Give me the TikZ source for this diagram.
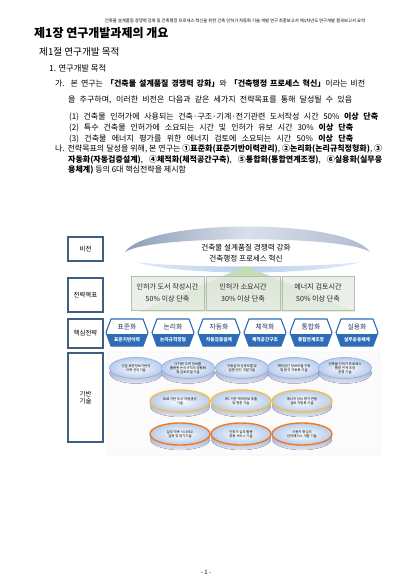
\documentclass[tikz,border=0pt]{standalone}
\usepackage{fontspec}
\setmainfont{Noto Sans CJK KR}
\usetikzlibrary{shapes.geometric}
\definecolor{labelblue}{HTML}{3F5F80}
\definecolor{hexblue}{HTML}{2F6CB8}
\definecolor{navy}{HTML}{1F3864}
\definecolor{archdark}{HTML}{8C9DB8}
\definecolor{archlight}{HTML}{D8E0EA}
\definecolor{archblue}{HTML}{BCD3EE}
\definecolor{arrowgreen}{HTML}{BFDBB0}
\definecolor{arrowpale}{HTML}{E6F0E0}
\definecolor{stratfill}{HTML}{E4E9E1}
\definecolor{stratline}{HTML}{B3BEAE}
\definecolor{faceblue}{HTML}{B7CCEC}
\definecolor{sideblue}{HTML}{7D8FC4}
\definecolor{ringblue}{HTML}{9DB4DC}
\definecolor{ringgold}{HTML}{F4C04A}
\definecolor{ringorange}{HTML}{EE7B22}
\definecolor{panelline}{HTML}{E6E6E6}
\tikzset{
  body/.style={anchor=west, inner sep=0pt, font=\fontsize{8}{9}\selectfont},
  lbl/.style={draw=labelblue, line width=1.8pt, fill=white, minimum width=35pt,
    inner sep=0pt, align=center, font=\fontsize{6.4}{7.8}\selectfont},
  strat/.style={draw=stratline, line width=0.5pt, fill=stratfill, fill opacity=0.72,
    text opacity=1, minimum height=34pt, inner sep=0pt, align=center,
    font=\fontsize{7.1}{8.5}\selectfont, text=black!85},
  hextop/.style={inner sep=0pt, font=\fontsize{6.8}{7}\selectfont, text=navy},
  hexbot/.style={inner sep=0pt, font=\bfseries\fontsize{4.7}{5}\selectfont, text=white},
  diskface/.style={ellipse, inner sep=0pt, align=center, inner color=white,
    outer color=faceblue, font=\fontsize{3.4}{4.1}\selectfont},
  diskside/.style={top color=sideblue, bottom color=sideblue!25},
}
\begin{document}
\begin{tikzpicture}[x=1pt,y=-1pt]
\useasboundingbox (0,0) rectangle (413,584);
\fill[white] (0,0) rectangle (413,584);

% running header
\node[inner sep=0pt] (hdr) at (235,21) {\resizebox{260pt}{!}{\fontsize{4}{4}\selectfont 건축물 설계품질 경쟁력 강화 및 건축행정 프로세스 혁신을 위한 건축 인허가 자동화 기술 개발 연구 최종보고서 제1차년도 연구개발 결과보고서 요약}};

% headings
\node[anchor=west, inner sep=0pt, font=\bfseries\fontsize{12}{13}\selectfont] (title) at (34,33) {제1장 연구개발과제의 개요};
\node[anchor=west, inner sep=0pt, font=\fontsize{9.6}{11}\selectfont] (sec) at (39,52) {제1절 연구개발 목적};
\node[anchor=west, inner sep=0pt, font=\fontsize{8.3}{9}\selectfont] (sub) at (49,68) {1. 연구개발 목적};

% paragraph ga
\node[body] (ga1) at (55,83) {\makebox[310pt][s]{가. 본 연구는 \textbf{「건축물 설계품질 경쟁력 강화」}와 \textbf{「건축행정 프로세스 혁신」}이라는 비전}};
\node[body] (ga2) at (68,100) {\makebox[284pt][s]{을 추구하며, 이러한 비전은 다음과 같은 세가지 전략목표를 통해 달성될 수 있음}};
\node[body] (ga3) at (69,117) {\makebox[309pt][s]{(1) 건축물 인허가에 사용되는 건축·구조·기계·전기관련 도서작성 시간 50\% \textbf{이상 단축}}};
\node[body] (ga4) at (69,128) {\makebox[284pt][s]{(2) 특수 건축물 인허가에 소요되는 시간 및 인허가 유보 시간 30\% \textbf{이상 단축}}};
\node[body] (ga5) at (69,139) {\makebox[284pt][s]{(3) 건축물 에너지 평가를 위한 에너지 검토에 소요되는 시간 50\% \textbf{이상 단축}}};

% paragraph na
\node[body] (na1) at (55,149) {\makebox[327pt][s]{나. 전략목표의 달성을 위해, 본 연구는 \textbf{①표준화(표준기반이력관리)}, \textbf{②논리화(논리규칙정형화)}, \textbf{③}}};
\node[body] (na2) at (68,160) {\makebox[314pt][s]{\textbf{자동화(자동검증설계)}, \textbf{④체적화(체적공간구축)}, \textbf{⑤통합화(통합연계조정)}, \textbf{⑥실용화(실무응}}};
\node[body] (na3) at (68,170) {\textbf{용체계)} 등의 6대 핵심전략을 제시함};

% left label boxes
\node[lbl, minimum height=24pt] (lvision) at (85.5,249) {비전};
\node[lbl, minimum height=34pt] (lgoal) at (85.5,295) {전략목표};
\node[lbl, minimum height=29pt] (lcore) at (85.5,333.5) {핵심전략};
\node[lbl, minimum height=89pt] (lbase) at (85.5,397.5) {기반\\기술};

% vision arch
\shade[left color=archdark, right color=archdark!70, middle color=archlight]
  (125,252) .. controls (148,218) and (347,218) .. (370,252)
  .. controls (345,235) and (150,235) .. (125,252) -- cycle;
\shade[left color=archblue!50, right color=archblue!50, middle color=archblue]
  (136,262) .. controls (180,276) and (315,276) .. (360,262)
  .. controls (315,268) and (180,268) .. (136,262) -- cycle;
\node[inner sep=0pt, font=\fontsize{7.6}{8}\selectfont] (vis1) at (246,248) {건축물 설계품질 경쟁력 강화};
\node[inner sep=0pt, font=\fontsize{7.6}{8}\selectfont] (vis2) at (246,259) {건축행정 프로세스 혁신};

% green arrow behind goals
\shade[top color=arrowgreen, bottom color=arrowpale]
  (246,266) -- (356,312) -- (138,312) -- cycle;

% strategy goal boxes
\node[strat, minimum width=73pt] (g1) at (167.5,293) {인허가 도서 작성시간\\[4pt]50\% 이상 단축};
\node[strat, minimum width=74pt] (g2) at (243,293) {인허가 소요시간\\[4pt]30\% 이상 단축};
\node[strat, minimum width=72pt] (g3) at (318,293) {에너지 검토시간\\[4pt]50\% 이상 단축};

% core strategy hexagons
\foreach \cx/\ta/\tb [count=\i] in {127/표준화/표준기반이력, 173/논리화/논리규칙정형,
    219/자동화/자동검증설계, 265/체적화/체적공간구조, 311/통합화/통합연계조정, 357/실용화/실무응용체계} {
  \begin{scope}
    \clip (\cx-16,319) -- (\cx+16,319) -- (\cx+21,332.5) -- (\cx+16,346)
      -- (\cx-16,346) -- (\cx-21,332.5) -- cycle;
    \fill[white] (\cx-22,318) rectangle (\cx+22,334);
    \fill[hexblue] (\cx-22,334) rectangle (\cx+22,347);
  \end{scope}
  \draw[hexblue, line width=1.1pt, line join=round]
    (\cx-16,319) -- (\cx+16,319) -- (\cx+21,332.5) -- (\cx+16,346)
    -- (\cx-16,346) -- (\cx-21,332.5) -- cycle;
  \node[hextop] (ht\i) at (\cx,326.5) {\ta};
  \node[hexbot] (hb\i) at (\cx,340) {\tb};
}

% base technology panel
\draw[panelline, fill=black!1.5, rounded corners=3pt] (107,352) rectangle (380,455);

% disks: row 1
\foreach \n/\cx/\t in {
  d1/136/{건설 표준정보기반의\\이력 관리기술},
  d2/188/{다차원 도면 정보를\\활용한 논리규칙의 정형화\\및 검토모델 기술},
  d3/242/{자동설계 검증모델 및\\검증 엔진 개발기술},
  d4/294/{체적공간 정보모델 구축\\및 분석 자동화 기술},
  d5/345/{건축물 인허가 프로세스\\통합 연계 조정\\운영 기술}} {
  \fill[diskside] (\cx,373) ellipse [x radius=26.5, y radius=10.5];
  \node[diskface, draw=ringblue, line width=0.8pt, minimum width=53pt, minimum height=21pt] (\n) at (\cx,368) {\t};
}
% disks: row 2
\foreach \n/\cx/\t in {
  e1/180/{BIM 기반 도서 자동생성\\기술},
  e2/241/{IFC 기반 체적정보 추출\\및 변환 기술},
  e3/302/{에너지 성능 평가 연동\\검토 자동화 기술}} {
  \fill[diskside] (\cx,406) ellipse [x radius=30, y radius=11];
  \node[diskface, draw=ringgold, line width=1.4pt, minimum width=60pt, minimum height=22pt] (\n) at (\cx,401) {\t};
}
% disks: row 3
\foreach \n/\cx/\t in {
  f1/180/{실무 적용 시나리오\\검증 및 평가기술},
  f2/241/{인허가 실무 활용\\응용 서비스 기술},
  f3/302/{사용자 중심의\\인터페이스 개발 기술}} {
  \fill[diskside] (\cx,439) ellipse [x radius=30, y radius=11];
  \node[diskface, draw=ringorange, line width=1.4pt, minimum width=60pt, minimum height=22pt] (\n) at (\cx,434) {\t};
}

% page number
\node[inner sep=0pt, font=\fontsize{6}{7}\selectfont] (pg) at (206,572) {- 1 -};
\end{tikzpicture}
\end{document}
